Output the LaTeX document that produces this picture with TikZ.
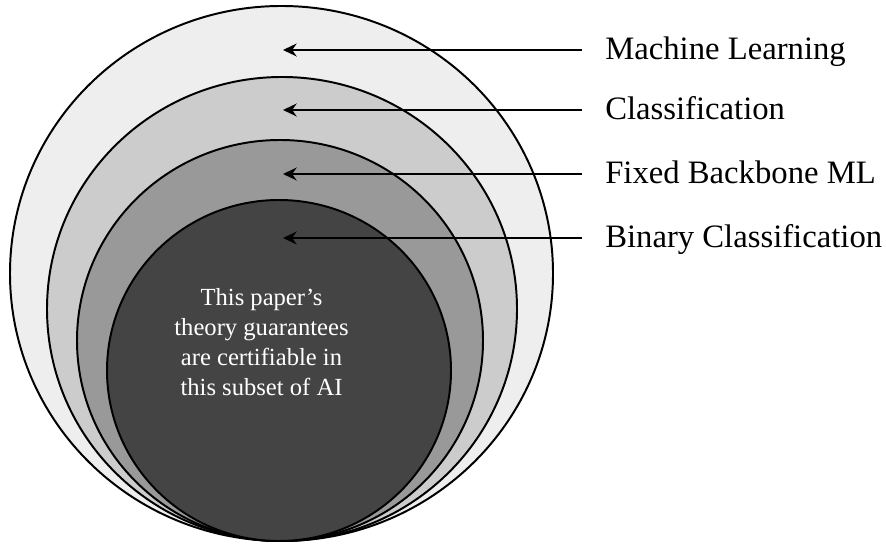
\documentclass[tikz,border=0pt]{standalone}
\usepackage{fontspec}
\setmainfont{Liberation Serif}
\usepackage{tikz}
\usetikzlibrary{arrows.meta}

\definecolor{mlgray}{HTML}{EEEEEE}
\definecolor{clsgray}{HTML}{CCCCCC}
\definecolor{fbgray}{HTML}{999999}
\definecolor{bingray}{HTML}{444444}

\tikzset{
	ring/.style={draw=black, line width=1.4pt},
	setlabel/.style={anchor=west, inner xsep=0.575cm, inner ysep=0pt, text height=0.5cm, text depth=0pt, font=\fontsize{23.25}{28}\selectfont},
	pointer/.style={line width=1.5pt, -{Stealth[length=0.34cm, width=0.32cm, inset=0.11cm]}}
}

\begin{document}
\begin{tikzpicture}
		%%%%% START %%%%%
		\useasboundingbox (0, 0) rectangle (22.15, 13.6);
		
		\draw[ring, fill=mlgray] (7.0375, 6.7625) ellipse (6.7875 and 6.6875);
		\draw[ring, fill=clsgray] (7.05, 5.875) ellipse (5.875 and 5.8);
		\draw[ring, fill=fbgray] (7.0, 5.0875) ellipse (5.075 and 5.0125);
		\draw[ring, fill=bingray] (6.975, 4.3375) ellipse (4.3 and 4.2625);
		
		\node[text=white, align=center, inner sep=0pt, font=\fontsize{17.5}{21.3}\selectfont] (core) at (6.5375, 5.05) {This paper’s\\theory guarantees\\are certifiable in\\this subset of AI};
		
		\node[setlabel] (ml) at (14.55, 12.35) {Machine Learning};
		\node[setlabel] (cls) at (14.55, 10.85) {Classification};
		\node[setlabel] (fb) at (14.55, 9.25) {Fixed Backbone ML};
		\node[setlabel] (bin) at (14.55, 7.65) {Binary Classification};
		
		\coordinate (mltip) at (7.075, 12.35);
		\coordinate (clstip) at (7.075, 10.85);
		\coordinate (fbtip) at (7.075, 9.25);
		\coordinate (bintip) at (7.075, 7.65);
		
		\draw[pointer] (ml.west) -- (mltip);
		\draw[pointer] (cls.west) -- (clstip);
		\draw[pointer] (fb.west) -- (fbtip);
		\draw[pointer] (bin.west) -- (bintip);
		
		%%%%% END %%%%%
	\end{tikzpicture}
\end{document}
